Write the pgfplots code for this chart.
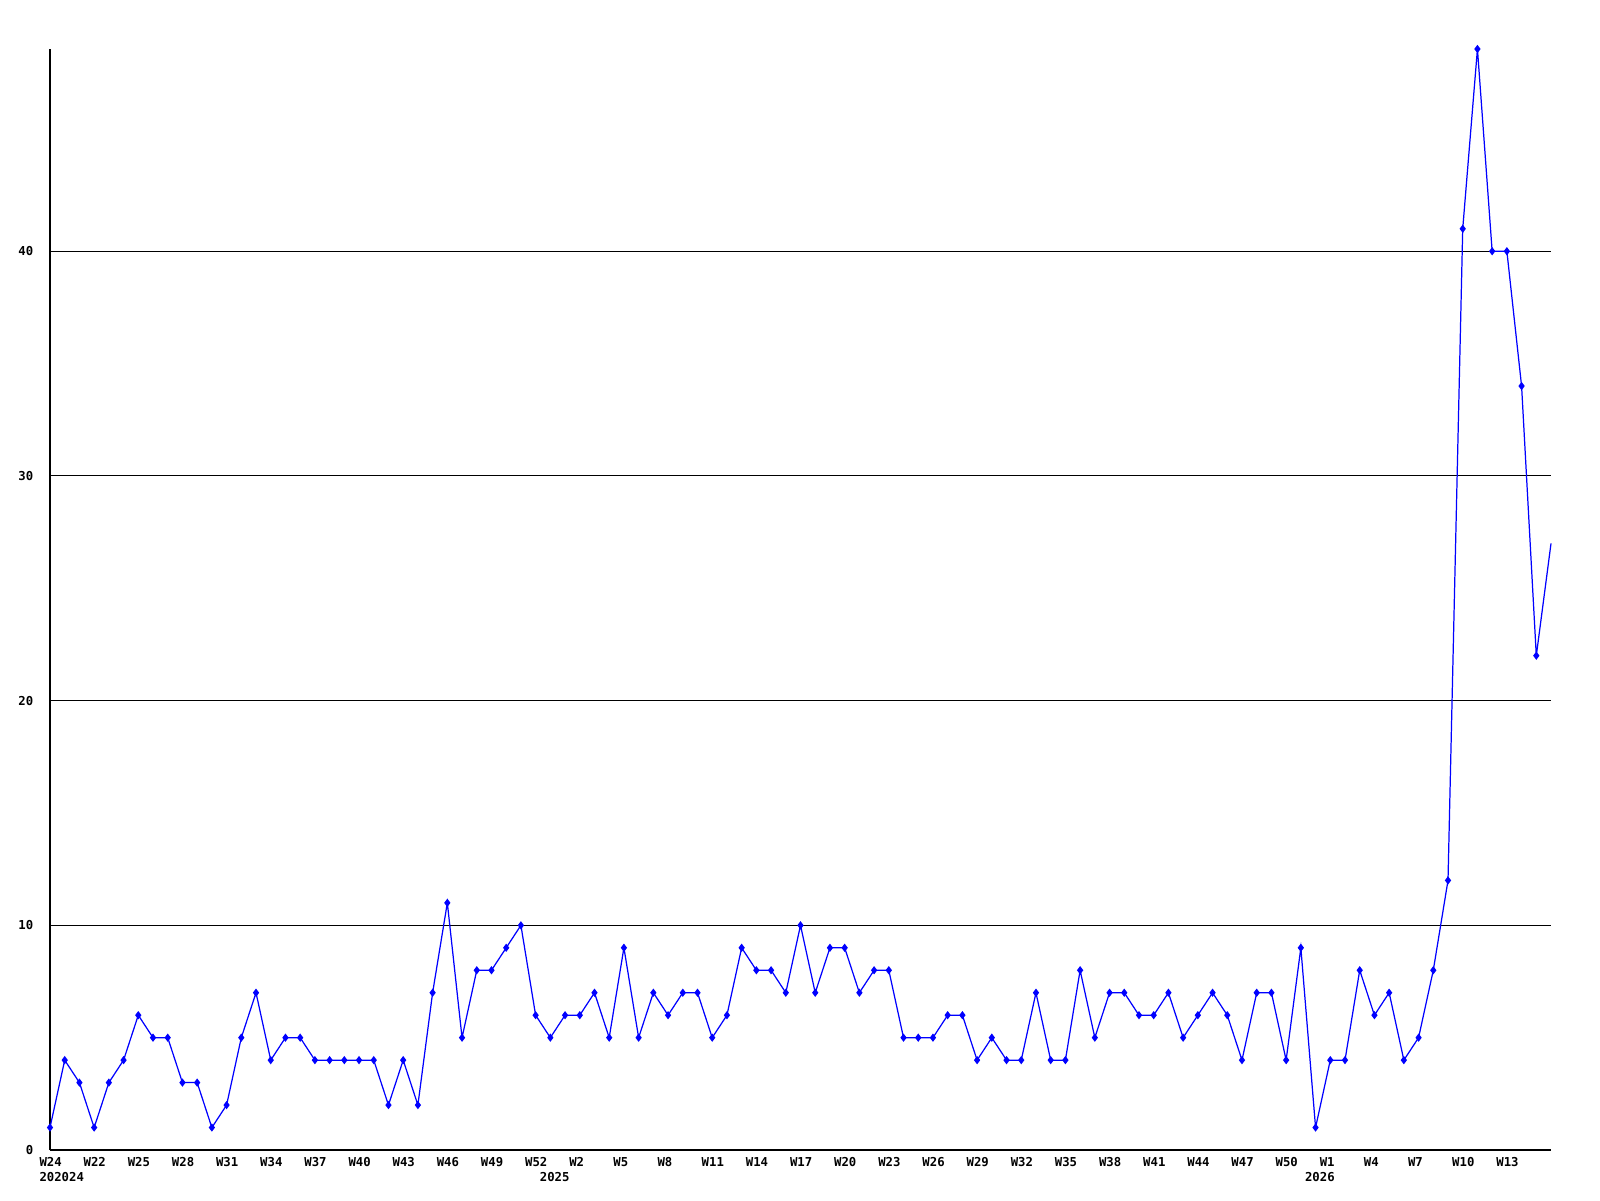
\documentclass[border=0pt]{standalone}
\usepackage{pgfplots}
\pgfplotsset{compat=1.18}
\usepackage{fontspec}
\newfontfamily\tickfont{DejaVu Sans Mono}
\definecolor{lineblue}{RGB}{0,0,255}

\begin{document}
\begin{tikzpicture}
\begin{axis}[
    name=ax, at={(0,0)}, anchor=south west,
    scale only axis, width=15.01cm, height=11.01cm,
    xmin=0, xmax=102, ymin=0, ymax=49,
    axis lines=left, axis line style={-, line width=0.3pt},
    major tick length=0pt,
    xtick={0,3,...,99},
    xticklabels={W24,W22,W25,W28,W31,W34,W37,W40,W43,W46,W49,W52,W2,W5,W8,W11,W14,W17,W20,W23,W26,W29,W32,W35,W38,W41,W44,W47,W50,W1,W4,W7,W10,W13},
    extra x ticks={0,34,86},
    extra x tick labels={202024,2025,2026},
    extra x tick style={grid=none, tick label style={yshift=-0.15cm}},
    ytick={0,10,20,30,40},
    ymajorgrids, grid style={black, line width=0.3pt},
    tick label style={font=\tickfont\bfseries\fontsize{3.5}{4}\selectfont, inner sep=0pt},
    xticklabel style={anchor=north west, xshift=-0.112cm, yshift=-0.07cm},
    yticklabel style={anchor=east, xshift=-0.16cm},
    /pgf/number format/assume math mode=true,
    clip=false,
]
\addplot[color=lineblue, line width=0.35pt, mark=diamond*, mark size=0.9pt,
    mark indices={1,...,102}] coordinates {
(0,1) (1,4) (2,3) (3,1) (4,3) (5,4) (6,6) (7,5) (8,5) (9,3)
(10,3) (11,1) (12,2) (13,5) (14,7) (15,4) (16,5) (17,5) (18,4) (19,4)
(20,4) (21,4) (22,4) (23,2) (24,4) (25,2) (26,7) (27,11) (28,5) (29,8)
(30,8) (31,9) (32,10) (33,6) (34,5) (35,6) (36,6) (37,7) (38,5) (39,9)
(40,5) (41,7) (42,6) (43,7) (44,7) (45,5) (46,6) (47,9) (48,8) (49,8)
(50,7) (51,10) (52,7) (53,9) (54,9) (55,7) (56,8) (57,8) (58,5) (59,5)
(60,5) (61,6) (62,6) (63,4) (64,5) (65,4) (66,4) (67,7) (68,4) (69,4)
(70,8) (71,5) (72,7) (73,7) (74,6) (75,6) (76,7) (77,5) (78,6) (79,7)
(80,6) (81,4) (82,7) (83,7) (84,4) (85,9) (86,1) (87,4) (88,4) (89,8)
(90,6) (91,7) (92,4) (93,5) (94,8) (95,12) (96,41) (97,49) (98,40) (99,40)
(100,34) (101,22) (102,27)
};
\end{axis}
\pgfresetboundingbox
\path[use as bounding box] (-0.50cm,-0.50cm) rectangle (15.50cm,11.50cm);
\end{tikzpicture}
\end{document}
